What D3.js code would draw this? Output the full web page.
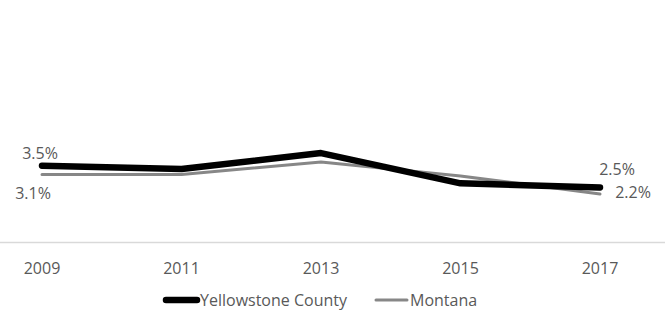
<!DOCTYPE html>
<html>
<head>
<meta charset="utf-8">
<script src="https://cdn.jsdelivr.net/npm/d3@7"></script>
<style>
  body { margin: 0; background: #fff; }
  text { font-family: "Open Sans", sans-serif; fill: #595959; }
</style>
</head>
<body>
<div id="vis"></div>
<script>
// data
const years = ["2009", "2011", "2013", "2015", "2017"];
const yellowstone = [3.5, 3.35, 4.08, 2.69, 2.5];
const montana = [3.1, 3.1, 3.67, 3.03, 2.2];
const seriesNames = ["Yellowstone County", "Montana"];

function drawChart() {
    const dimensions = {
        width: 665,
        height: 313,
        axisY: 242.5,
        fontSize: 16
    };

    const svg = d3.select("#vis")
        .append("svg")
        .attr("width", dimensions.width)
        .attr("height", dimensions.height);

    const xScale = d3.scalePoint()
        .domain(years)
        .range([42, 600]);

    const yScale = d3.scaleLinear()
        .domain([0, 10])
        .range([242, 24]);

    // baseline
    svg.append("line")
        .attr("x1", 0)
        .attr("x2", dimensions.width)
        .attr("y1", dimensions.axisY)
        .attr("y2", dimensions.axisY)
        .attr("stroke", "#d9d9d9")
        .attr("stroke-width", 1.5);

    // year labels
    svg.selectAll(".year")
        .data(years)
        .join("text")
        .attr("class", "year")
        .attr("x", d => xScale(d))
        .attr("y", 274)
        .attr("text-anchor", "middle")
        .attr("font-size", dimensions.fontSize)
        .text(d => d);

    const series = [
        { name: seriesNames[0], values: yellowstone, color: "#000", width: 6.5 },
        { name: seriesNames[1], values: montana, color: "#878787", width: 3 }
    ];

    const line = d3.line()
        .x((d, i) => xScale(years[i]))
        .y(d => yScale(d));

    // montana first so the county line sits on top
    svg.selectAll(".series")
        .data(series.slice().reverse())
        .join("path")
        .attr("class", "series")
        .attr("d", d => line(d.values))
        .attr("fill", "none")
        .attr("stroke", d => d.color)
        .attr("stroke-width", d => d.width)
        .attr("stroke-linecap", "round")
        .attr("stroke-linejoin", "round");

    // end labels
    const first = 0, last = years.length - 1;
    const labels = [
        { v: yellowstone[first], i: first, dx: -2, dy: -7 },
        { v: montana[first], i: first, dx: -9, dy: 25 },
        { v: yellowstone[last], i: last, dx: 17, dy: -13 },
        { v: montana[last], i: last, dx: 33, dy: 4 }
    ];
    svg.selectAll(".lbl")
        .data(labels)
        .join("text")
        .attr("class", "lbl")
        .attr("x", d => xScale(years[d.i]) + d.dx)
        .attr("y", d => yScale(d.v) + d.dy)
        .attr("text-anchor", "middle")
        .attr("font-size", dimensions.fontSize)
        .text(d => d.v.toFixed(1) + "%");

    // legend
    const legend = [
        { name: seriesNames[0], color: "#000", width: 6.5, x: 166 },
        { name: seriesNames[1], color: "#878787", width: 3, x: 376 }
    ];
    const lg = svg.selectAll(".legend")
        .data(legend)
        .join("g")
        .attr("class", "legend")
        .attr("transform", d => `translate(${d.x}, 300)`);
    lg.append("line")
        .attr("x1", 0)
        .attr("x2", 31)
        .attr("stroke", d => d.color)
        .attr("stroke-width", d => d.width)
        .attr("stroke-linecap", "round");
    lg.append("text")
        .attr("x", 34)
        .attr("y", 5.5)
        .attr("font-size", dimensions.fontSize)
        .text(d => d.name);
}

drawChart();
</script>
</body>
</html>
